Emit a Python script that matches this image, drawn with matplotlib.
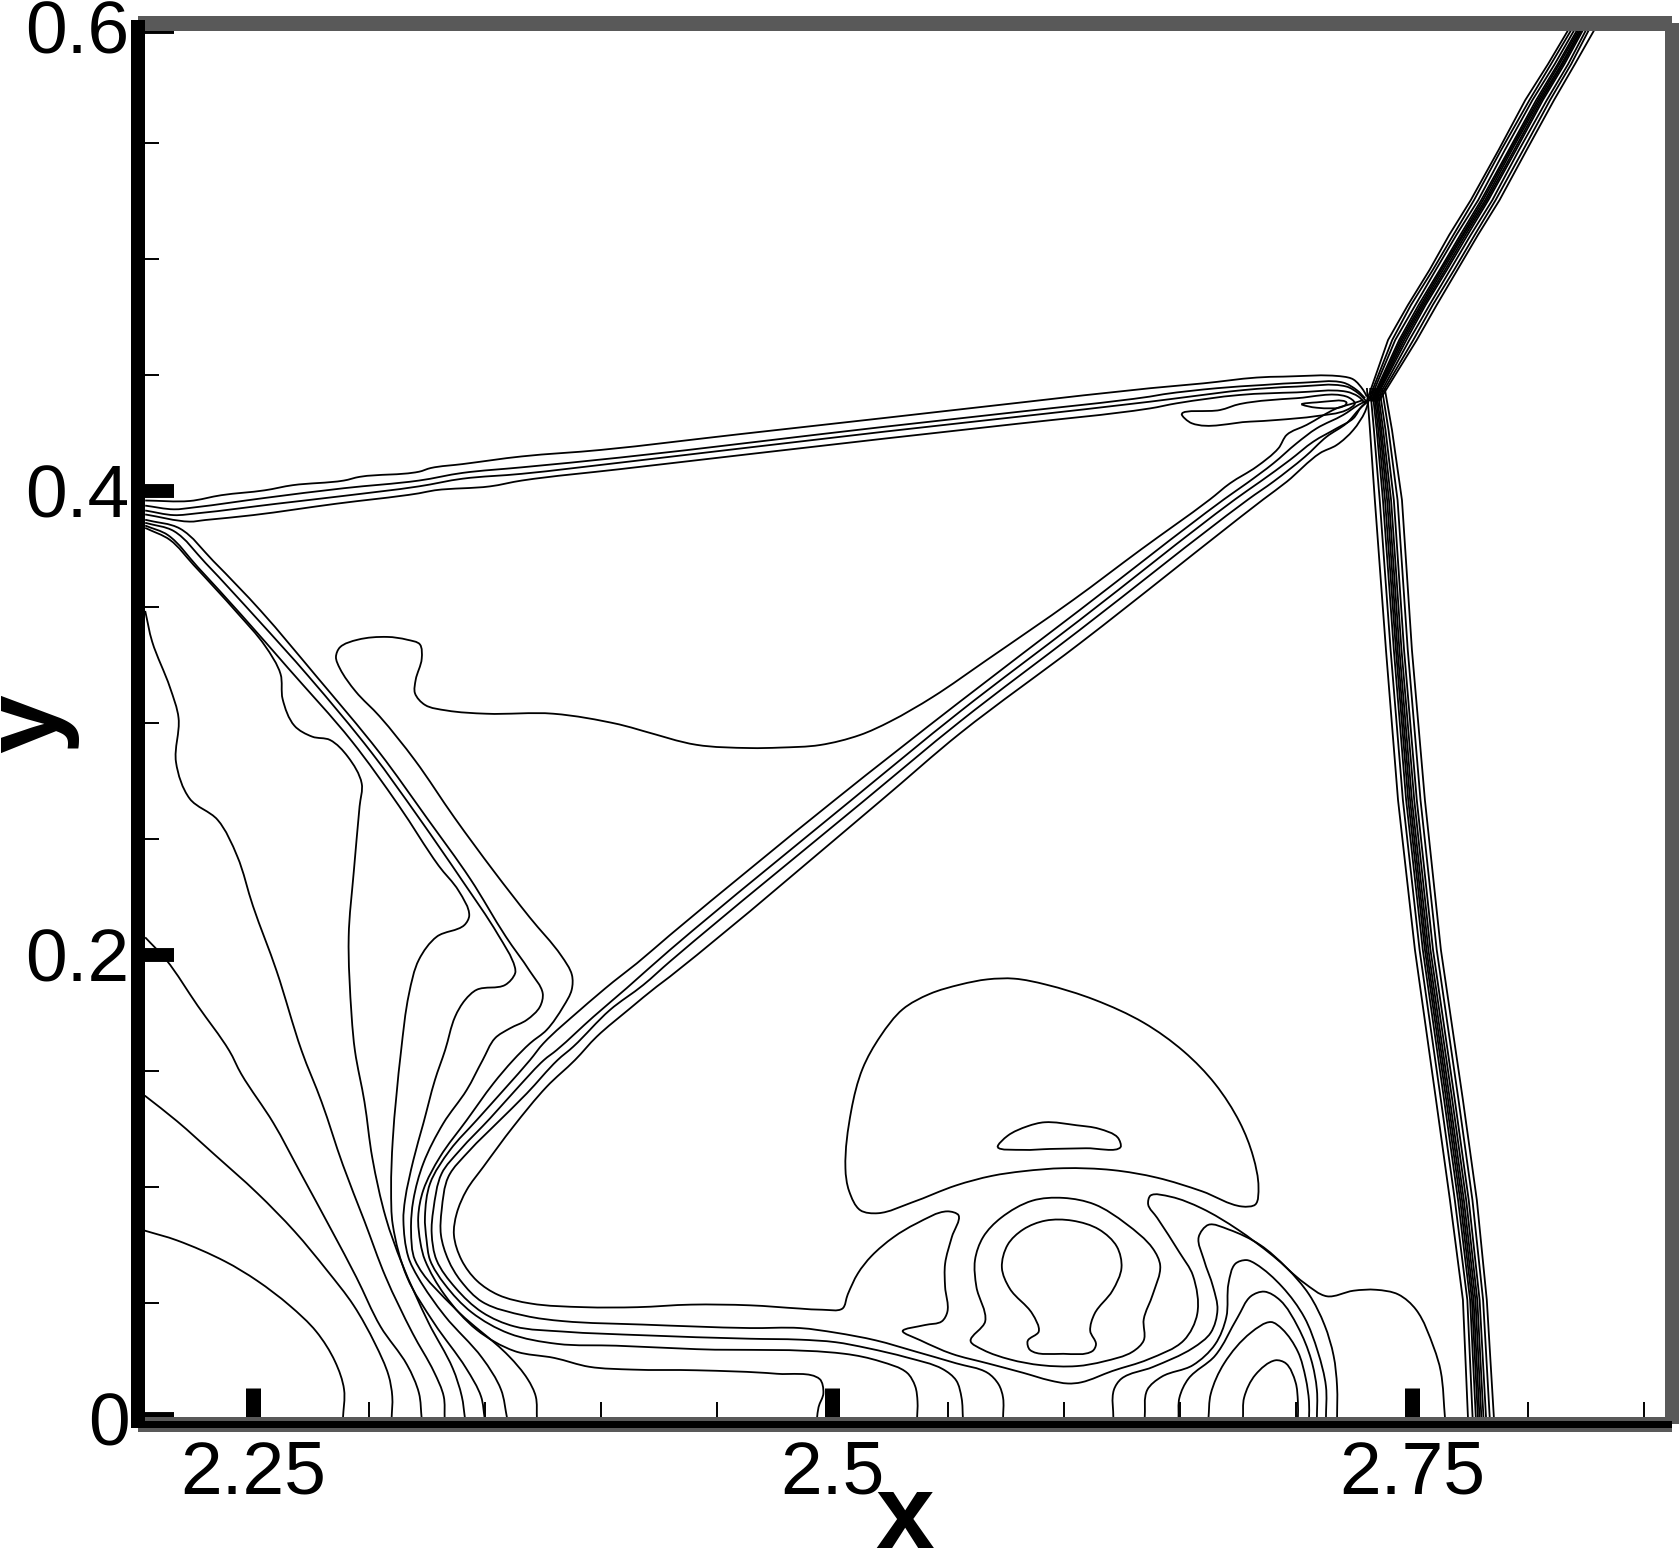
"""Density contours of a shock reflection, redrawn in a Tecplot-like frame."""

import matplotlib

matplotlib.use("Agg")
import matplotlib.pyplot as plt
import numpy as np
from matplotlib.patches import PathPatch, Rectangle
from matplotlib.path import Path

W, H = 1680, 1550
GRAY = "#595959"

x_major = [2.25, 2.5, 2.75]
x_major_labels = ["2.25", "2.5", "2.75"]
x_minor = [2.3, 2.35, 2.4, 2.45, 2.55, 2.6, 2.65, 2.7, 2.8, 2.85]
y_major = [0, 0.2, 0.4, 0.6]
y_major_labels = ["0", "0.2", "0.4", "0.6"]
y_minor = [0.05, 0.1, 0.15, 0.25, 0.3, 0.35, 0.45, 0.5, 0.55]

# fan of contours running into the lower wall
fan_1 = [(2.2033, .0812), (2.2172, .0770), (2.238, .0679), (2.2518, .0596), (2.2657, .049), (2.2773, .0377),
         (2.2854, .0248), (2.2893, .0127), (2.2888, 0)]
fan_2 = [(2.2033, .1394), (2.2172, .1284), (2.2334, .114), (2.2518, .0974), (2.268, .0808), (2.2819, .0641),
         (2.2934, .049), (2.3027, .0324), (2.3085, .0188), (2.3101, .0097), (2.3098, 0)]
fan_3 = [(2.2035, .2076), (2.2125, .198), (2.2261, .1782), (2.2398, .1587), (2.2449, .1488), (2.2588, .1276),
         (2.2703, .1065), (2.2842, .0808), (2.2946, .0611), (2.305, .0399), (2.3165, .0233), (2.3216, .0112),
         (2.3228, 0)]
fan_4 = [(2.2035, .3483), (2.2065, .3351), (2.2142, .3153), (2.2179, .3021), (2.2168, .2831), (2.2227, .2674),
         (2.2347, .2583), (2.2432, .2426), (2.25, .2211), (2.2602, .1931), (2.271, .1587), (2.2796, .1367),
         (2.2888, .1095), (2.2981, .0853), (2.3073, .0611), (2.3189, .0369), (2.3281, .0203), (2.3323, .0097),
         (2.3327, 0)]
fan_5 = [(2.2035, .3841), (2.2142, .3789), (2.2244, .3681), (2.2432, .3475), (2.2551, .3334), (2.2619, .3211),
         (2.2628, .3103), (2.2679, .2988), (2.2756, .2941), (2.2832, .2927), (2.2909, .2855), (2.2969, .274),
         (2.296, .2641), (2.2935, .236), (2.2913, .2079), (2.2926, .1732), (2.294, .1587), (2.2981, .1367),
         (2.3015, .1125), (2.3073, .0868), (2.3142, .0672), (2.3258, .0414), (2.3362, .0218), (2.3401, .0097),
         (2.3415, 0)]
fan_6 = [(2.2035, .3851), (2.2133, .381), (2.2261, .3673), (2.2449, .3467), (2.2653, .3235), (2.2926, .2922),
         (2.3131, .2641), (2.3301, .2385), (2.3387, .2277), (2.3433, .217), (2.3412, .2129), (2.3293, .2079),
         (2.3216, .198), (2.3173, .1832), (2.3139, .1587), (2.3103, .1201), (2.3096, .0989), (2.3103, .0838),
         (2.3165, .0611), (2.3281, .0414), (2.342, .0218), (2.3484, .0097), (2.35, 0)]
fan_7 = [(2.2035, .3863), (2.2159, .3827), (2.2295, .369), (2.2517, .345), (2.2739, .3202), (2.3012, .2872),
         (2.3216, .2591), (2.3404, .2319), (2.3557, .2088), (2.363, .1947), (2.3631, .1921), (2.3588, .1871),
         (2.3465, .185), (2.3415, .1806), (2.3372, .1734), (2.3329, .159), (2.3285, .1461), (2.3235, .1274),
         (2.3192, .1116), (2.3156, .0944), (2.3149, .0857), (2.317, .0699), (2.3212, .0611), (2.3327, .0445),
         (2.3489, .0263), (2.357, .0127), (2.3597, 0)]
fan_8 = [(2.2035, .3876), (2.2185, .3838), (2.2329, .3698), (2.2534, .3483), (2.2773, .3202), (2.3046, .2872),
         (2.325, .2591), (2.3438, .2327), (2.3591, .2079), (2.3694, .1931), (2.375, .1835), (2.3738, .1777),
         (2.3681, .172), (2.3609, .1684), (2.3544, .1641), (2.3491, .1547), (2.3422, .1418), (2.3321, .1274),
         (2.3235, .1102), (2.3192, .0944), (2.3182, .0814), (2.3199, .0685), (2.3373, .0475), (2.3604, .0271),
         (2.3685, .0172), (2.372, .0097), (2.3725, 0)]

# long contours: triple point, down the diagonal shock, along the wall
long_1 = [(2.729, .4392), (2.7247, .4378), (2.7175, .4356), (2.7046, .4285), (2.696, .4242), (2.6924, .4184),
          (2.683, .4105), (2.6715, .4033), (2.6629, .3964), (2.633, .3747), (2.6038, .353), (2.5665, .3271),
          (2.5434, .3113), (2.5248, .3006), (2.5118, .2948), (2.4946, .2905), (2.4773, .2894), (2.4644, .2892),
          (2.4413, .2906), (2.4182, .2966), (2.408, .2994), (2.3796, .304), (2.3506, .304), (2.3335, .3054),
          (2.3242, .3078), (2.3199, .3128), (2.3202, .3186), (2.3228, .3277), (2.322, .3339), (2.3165, .3359),
          (2.308, .3371), (2.2952, .3359), (2.2875, .3326), (2.2858, .3285), (2.2875, .3235), (2.2943, .3136),
          (2.3046, .3029), (2.3199, .2839), (2.337, .2591), (2.354, .236), (2.3694, .2162), (2.383, .1997),
          (2.3876, .1914), (2.3875, .185), (2.3839, .1778), (2.3767, .1677), (2.3695, .1619), (2.3623, .1547),
          (2.3537, .1446), (2.3422, .1288), (2.3307, .113), (2.3235, .0987), (2.3213, .0872), (2.3223, .0757),
          (2.3242, .0685), (2.3327, .0535), (2.3466, .0384), (2.3628, .0293), (2.3801, .0263), (2.3951, .0225),
          (2.4136, .0213), (2.4413, .021), (2.476, .0195), (2.4945, .0172), (2.4961, .0112), (2.494, .0051),
          (2.4933, 0)]
long_2 = [(2.7305, .4389), (2.7269, .4371), (2.7204, .4328), (2.7089, .427), (2.7003, .4206), (2.6902, .4119),
          (2.6787, .4033), (2.6689, .3964), (2.6067, .3487), (2.555, .3092), (2.501, .2668), (2.4299, .2086),
          (2.4156, .1964), (2.4055, .1885), (2.3911, .1763), (2.3753, .1619), (2.3695, .1547), (2.3594, .1432),
          (2.3465, .1288), (2.335, .1159), (2.3264, .1015), (2.3242, .0872), (2.3249, .0771), (2.3264, .0685),
          (2.3327, .0581), (2.3443, .046), (2.3604, .0369), (2.3812, .0324), (2.4067, .0316), (2.4413, .0301),
          (2.5053, .0281), (2.5207, .0248), (2.5322, .0199), (2.5357, .0141), (2.5367, .0075), (2.5365, 0)]
long_3 = [(2.7312, .4389), (2.7283, .4364), (2.7247, .4313), (2.7175, .427), (2.7075, .4213), (2.6974, .4134),
          (2.6845, .404), (2.6737, .3964), (2.6067, .3444), (2.555, .3049), (2.5082, .2668), (2.4299, .2022),
          (2.4112, .1857), (2.3969, .1734), (2.381, .159), (2.3755, .1547), (2.3652, .1439), (2.3523, .1296),
          (2.3393, .1159), (2.3314, .1058), (2.3278, .09), (2.3271, .08), (2.3292, .0685), (2.3373, .0566),
          (2.3489, .046), (2.3628, .0399), (2.3836, .0377), (2.4182, .0361), (2.4644, .0346), (2.486, .0342),
          (2.5014, .0331), (2.5149, .0306), (2.5322, .0265), (2.5476, .0215), (2.5534, .0166), (2.5557, .0091),
          (2.5563, 0)]
long_4 = [(2.7312, .4388), (2.7276, .4356), (2.7218, .4292), (2.7132, .4234), (2.7039, .4148), (2.6902, .404),
          (2.6794, .3964), (2.6067, .3401), (2.555, .3006), (2.514, .2668), (2.4299, .1972), (2.4184, .1871),
          (2.404, .1763), (2.3882, .1605), (2.3814, .1547), (2.3681, .1403), (2.3551, .1274), (2.3436, .1159),
          (2.3343, .1044), (2.3314, .09), (2.3311, .0793), (2.3343, .0685), (2.3396, .0596), (2.3489, .0505),
          (2.3674, .0445), (2.3836, .0422), (2.4182, .0407), (2.4644, .0392), (2.486, .0392), (2.5014, .0372),
          (2.5187, .0339), (2.5361, .029), (2.5534, .024), (2.5669, .0199), (2.5717, .0149), (2.5736, .0092),
          (2.5736, 0)]
long_5 = [(2.7312, .4385), (2.7298, .4342), (2.7247, .4263), (2.7175, .4198), (2.7103, .4163), (2.696, .404),
          (2.6859, .3964), (2.6067, .3343), (2.555, .2955), (2.5212, .2668), (2.4299, .1907), (2.4242, .1864),
          (2.4127, .177), (2.3983, .1648), (2.3889, .1547), (2.3767, .1432), (2.3623, .126), (2.3494, .1087),
          (2.3422, .0987), (2.3379, .0886), (2.3367, .0793), (2.34, .0685), (2.3466, .0596), (2.3558, .0535),
          (2.3697, .0498), (2.3928, .0482), (2.4159, .0482), (2.439, .0493), (2.4644, .049), (2.486, .0476),
          (2.4956, .0471), (2.5043, .0476), (2.5066, .0537), (2.511, .0628), (2.5168, .0702), (2.5264, .0784),
          (2.5361, .0842), (2.5496, .0895), (2.5544, .0878), (2.5515, .0784), (2.5486, .0669), (2.5486, .057),
          (2.5496, .0463), (2.5472, .0421), (2.5399, .0405), (2.5303, .0379), (2.538, .0339), (2.5515, .0281),
          (2.5669, .024), (2.5823, .0199), (2.5939, .0166), (2.6016, .0153), (2.6073, .0158), (2.6208, .0207),
          (2.6362, .0257), (2.6516, .0339), (2.6574, .0454), (2.6555, .0619), (2.6497, .0718), (2.6401, .0867),
          (2.6362, .0925), (2.6372, .0963), (2.6459, .0958), (2.6593, .0908), (2.6748, .0817), (2.6902, .0702),
          (2.7036, .0586), (2.7133, .0529), (2.7248, .0553), (2.7345, .0557), (2.7441, .0537), (2.7518, .0471),
          (2.7595, .0306), (2.7624, .0207), (2.7643, 0)]

# arches above the wall, right of the stem
arch_1 = [(2.6212, 0), (2.6214, .0125), (2.6247, .0174), (2.6382, .0224), (2.6555, .0306), (2.6632, .0372),
          (2.6661, .0471), (2.6642, .057), (2.6603, .0685), (2.658, .0784), (2.6622, .0837), (2.6709, .0817),
          (2.6844, .0751), (2.6959, .0652), (2.7056, .0537), (2.7123, .0405), (2.7162, .0273), (2.7177, .0141),
          (2.7177, 0)]
arch_2 = [(2.6347, 0), (2.6358, .0125), (2.642, .0182), (2.6555, .0232), (2.6651, .0322), (2.6699, .0438),
          (2.6709, .0586), (2.6738, .0669), (2.6786, .0685), (2.6825, .0669), (2.694, .057), (2.7036, .0438),
          (2.7094, .029), (2.7129, .0141), (2.7129, 0)]
arch_3 = [(2.6493, 0), (2.6497, .0092), (2.6536, .0174), (2.6651, .0273), (2.6748, .0438), (2.6805, .0529),
          (2.6863, .0549), (2.6931, .0512), (2.7008, .0397), (2.7065, .0257), (2.709, .0125), (2.709, 0)]
arch_4 = [(2.6622, 0), (2.6632, .0108), (2.669, .024), (2.6805, .0372), (2.6892, .0418), (2.694, .0388),
          (2.7008, .029), (2.7042, .0174), (2.7056, .0075), (2.7056, 0)]
arch_5 = [(2.6771, 0), (2.6776, .0092), (2.6825, .0191), (2.6911, .0253), (2.6956, .024), (2.6998, .0158),
          (2.7008, .0075), (2.7008, 0)]

# closed contours
ring_outer = [(2.5596, .0336), (2.5659, .0421), (2.5621, .057), (2.5615, .0685), (2.565, .0784), (2.5727, .0867),
              (2.5862, .0941), (2.5996, .0953), (2.6131, .0925), (2.6266, .0842), (2.6382, .0735), (2.6414, .0661),
              (2.6382, .0537), (2.6343, .043), (2.6343, .0339), (2.6295, .029), (2.617, .0248), (2.6054, .0228),
              (2.59, .0232), (2.5765, .0257), (2.565, .0298), (2.5596, .0336)]
ring_inner = [(2.5842, .0336), (2.589, .0377), (2.5862, .0454), (2.5765, .0562), (2.5731, .0652), (2.5756, .0751),
              (2.5823, .0817), (2.5919, .0855), (2.6035, .0855), (2.615, .0817), (2.6227, .0743), (2.6247, .0652),
              (2.6208, .0553), (2.6131, .0454), (2.6112, .038), (2.6137, .0322), (2.6122, .0293), (2.5996, .0281),
              (2.5852, .0298), (2.5842, .0336)]
cap = [(2.5785, .1898), (2.5669, .1895), (2.5553, .1873), (2.5419, .1832), (2.5303, .1766), (2.5207, .165),
       (2.513, .151), (2.5081, .1329), (2.5056, .1081), (2.5072, .0982), (2.512, .09), (2.5197, .0887),
       (2.5342, .0933), (2.5534, .1007), (2.5688, .1048), (2.5823, .1068), (2.5996, .1081), (2.6208, .1073),
       (2.6401, .104), (2.6593, .0982), (2.6767, .0916), (2.6825, .0925), (2.6838, .0999), (2.6815, .1131),
       (2.6757, .1279), (2.6651, .1444), (2.6516, .1584), (2.6343, .1708), (2.6131, .1807), (2.5919, .1873),
       (2.5785, .1898)]
lens = [(2.5713, .1172), (2.5756, .1221), (2.5842, .1262), (2.5915, .1279), (2.6054, .1266), (2.615, .1251),
        (2.6231, .1213), (2.6243, .1172), (2.6093, .1167), (2.5939, .1164), (2.5823, .116), (2.5713, .1172)]
tail = [(2.6507, .4332), (2.6672, .4349), (2.6758, .4375), (2.7003, .44), (2.7218, .4407), (2.7254, .4378),
        (2.7218, .4349), (2.7089, .4323), (2.6916, .4306), (2.6801, .4299), (2.655, .4292), (2.6507, .4332)]
tail_core = [(2.7024, .4374), (2.7089, .4382), (2.7218, .4381), (2.7211, .4369), (2.7089, .4359), (2.7024, .4374)]

# nearly straight shock from the wall to the triple point
stem_1 = [(2.2035, .3959), (2.2227, .3957), (2.2364, .3982), (2.2551, .4003), (2.2671, .4025), (2.2892, .4045),
          (2.296, .4061), (2.3216, .4083), (2.3267, .4099), (2.3404, .4116), (2.3659, .4149), (2.4, .4177),
          (2.46, .4245), (2.5226, .4315), (2.58, .438), (2.637, .4443), (2.66, .4464), (2.683, .4489),
          (2.6945, .4493), (2.7204, .4493), (2.7247, .4481), (2.729, .4435), (2.7305, .4407)]
stem_2 = [(2.2035, .3937), (2.2159, .3921), (2.2244, .3929), (2.2551, .397), (2.2892, .4012), (2.3216, .4045),
          (2.3404, .4078), (2.3659, .4102), (2.4082, .4144), (2.5226, .4277), (2.58, .4341), (2.637, .4407),
          (2.6428, .4417), (2.6658, .4443), (2.6859, .4457), (2.7032, .4467), (2.7204, .4467), (2.7262, .4435),
          (2.7298, .44)]
stem_3 = [(2.2035, .3916), (2.2159, .3896), (2.2261, .3904), (2.2602, .3945), (2.2892, .3979), (2.3216, .402),
          (2.3404, .4053), (2.3659, .4074), (2.4082, .4122), (2.5226, .4256), (2.58, .432), (2.637, .4385),
          (2.6543, .4407), (2.6773, .4435), (2.7003, .445), (2.7218, .445), (2.7269, .4421), (2.7305, .4385)]
stem_4 = [(2.2035, .3899), (2.2227, .3868), (2.2295, .3875), (2.25, .3896), (2.2858, .3945), (2.3216, .399),
          (2.3284, .4003), (2.3523, .402), (2.3659, .4045), (2.4082, .4094), (2.5226, .4226), (2.58, .429),
          (2.637, .4356), (2.6485, .4378), (2.6758, .4414), (2.7003, .4425), (2.7218, .4428), (2.7269, .4407),
          (2.7298, .4378)]

# incident shock, triple point to the top edge: one row of x per contour
ne_y = [.4390, .4651, .4802, .4953, .5104, .5254, .547, .5685, .584, .6]
ne_x = [
    [2.7306, 2.7397, 2.7483, 2.7576, 2.7661, 2.7754, 2.7874, 2.7989, 2.8087, 2.8182],
    [2.7312, 2.7415, 2.7496, 2.7590, 2.7679, 2.7768, 2.7885, 2.8007, 2.8100, 2.8195],
    [2.7318, 2.7428, 2.7515, 2.7603, 2.7692, 2.7786, 2.7901, 2.8020, 2.8116, 2.8208],
    [2.7325, 2.7445, 2.7529, 2.7620, 2.7709, 2.7799, 2.7918, 2.8036, 2.8129, 2.8220],
    [2.7329, 2.7452, 2.7538, 2.7626, 2.7717, 2.7807, 2.7924, 2.8044, 2.8136, 2.8227],
    [2.7333, 2.7459, 2.7545, 2.7634, 2.7723, 2.7816, 2.7931, 2.8051, 2.8145, 2.8233],
    [2.7337, 2.7467, 2.7552, 2.7643, 2.7731, 2.7823, 2.7941, 2.8058, 2.8151, 2.8239],
    [2.7340, 2.7476, 2.7559, 2.7651, 2.7740, 2.7830, 2.7949, 2.8065, 2.8158, 2.8245],
    [2.7347, 2.7489, 2.7576, 2.7665, 2.7754, 2.7847, 2.7962, 2.8082, 2.8174, 2.8258],
    [2.7353, 2.7506, 2.7590, 2.7682, 2.7771, 2.7861, 2.7980, 2.8096, 2.8187, 2.8270],
    [2.7360, 2.7521, 2.7607, 2.7696, 2.7785, 2.7878, 2.7995, 2.8113, 2.8203, 2.8294],
]

# shock from the triple point down to the wall
south_y = [.4440, .4263, .3961, .3315, .2668, .2022, .1375, .0944, .0513, 0]
south_x = [
    [2.7306, 2.7319, 2.7340, 2.7388, 2.7440, 2.7513, 2.7604, 2.7664, 2.7720, 2.7742],
    [2.7320, 2.7336, 2.7361, 2.7408, 2.7461, 2.7533, 2.7625, 2.7685, 2.7739, 2.7762],
    [2.7329, 2.7348, 2.7375, 2.7422, 2.7475, 2.7547, 2.7639, 2.7699, 2.7751, 2.7776],
    [2.7335, 2.7355, 2.7384, 2.7431, 2.7484, 2.7556, 2.7648, 2.7708, 2.7759, 2.7785],
    [2.7341, 2.7362, 2.7393, 2.7438, 2.7492, 2.7563, 2.7656, 2.7716, 2.7766, 2.7792],
    [2.7346, 2.7368, 2.7401, 2.7446, 2.7500, 2.7571, 2.7664, 2.7724, 2.7774, 2.7800],
    [2.7352, 2.7376, 2.7410, 2.7455, 2.7510, 2.7580, 2.7674, 2.7734, 2.7782, 2.7809],
    [2.7360, 2.7386, 2.7422, 2.7466, 2.7521, 2.7591, 2.7685, 2.7745, 2.7792, 2.7820],
    [2.7371, 2.7399, 2.7438, 2.7482, 2.7537, 2.7607, 2.7701, 2.7761, 2.7807, 2.7836],
    [2.7383, 2.7414, 2.7457, 2.7500, 2.7556, 2.7625, 2.7720, 2.7780, 2.7823, 2.7854],
]

contours = [
    fan_1, fan_2, fan_3, fan_4, fan_5, fan_6, fan_7, fan_8,
    long_1, long_2, long_3, long_4, long_5,
    arch_1, arch_2, arch_3, arch_4, arch_5,
    ring_outer, ring_inner, cap, lens, tail, tail_core,
    stem_1, stem_2, stem_3, stem_4,
]


def rounded_path(line):
    # the read points stay on the line; only the drawing between them is curved
    pts = np.array(line)
    closed = line[0] == line[-1]
    seg = np.diff(pts, axis=0)
    unit = seg / np.maximum(np.hypot(seg[:, 0], seg[:, 1]), 1e-9)[:, None]
    tangent = np.zeros_like(pts)
    tangent[1:-1] = (unit[:-1] + unit[1:]) / 2
    tangent[0], tangent[-1] = unit[0], unit[-1]
    if closed:
        tangent[0] = tangent[-1] = (unit[-1] + unit[0]) / 2
    verts = [pts[0]]
    for i, d in enumerate(seg):
        step = np.hypot(*d) / 3
        verts += [pts[i] + tangent[i] * step, pts[i + 1] - tangent[i + 1] * step, pts[i + 1]]
    codes = [Path.MOVETO] + [Path.CURVE4] * (len(verts) - 1)
    return Path(verts, codes)


def px_rect(fig, x0, y0, x1, y1, color):
    # frame pieces are placed in image pixels, y counted from the top
    fig.add_artist(Rectangle((x0 / W, 1 - y1 / H), (x1 - x0) / W, (y1 - y0) / H,
                             transform=fig.transFigure, facecolor=color, edgecolor="none", zorder=5))


def main():
    plt.rcParams["font.family"] = ["Liberation Sans", "DejaVu Sans"]
    fig = plt.figure(figsize=(W / 100, H / 100), dpi=100)
    ax = fig.add_axes([138 / W, (H - 1419) / H, 1534 / W, 1392 / H])
    ax.set_xlim(2.2004, 2.8622)
    ax.set_ylim(0, 0.6)

    for line in contours:
        ax.add_patch(PathPatch(rounded_path(line), fill=False, edgecolor="black", lw=1.3))
    for row in ne_x:
        ax.plot(row, ne_y, color="black", lw=1.3)
    for row in south_x:
        ax.plot(row, south_y, color="black", lw=1.3)

    for spine in ax.spines.values():
        spine.set_visible(False)

    ax.set_xticks(x_major, x_major_labels)
    ax.set_xticks(x_minor, minor=True)
    ax.set_yticks(y_major, y_major_labels)
    ax.set_yticks(y_minor, minor=True)
    ax.tick_params(axis="x", which="major", direction="in", length=22, width=10.8, labelsize=54, pad=15)
    ax.tick_params(axis="y", which="major", direction="in", length=26, width=10, labelsize=54, pad=6)
    ax.tick_params(axis="x", which="minor", direction="in", length=12, width=1.4)
    ax.tick_params(axis="y", which="minor", direction="in", length=15, width=1.4)

    px_rect(fig, 138, 16, 1672, 31, GRAY)
    px_rect(fig, 1665, 23, 1679, 1424, GRAY)
    px_rect(fig, 138, 1417, 1672, 1432, GRAY)
    px_rect(fig, 131, 1421, 1672, 1428, "black")
    px_rect(fig, 131, 20, 145, 1428, "black")

    fig.text(905 / W, 1 - 1548 / H, "x", fontsize=76, fontweight="bold", ha="center", va="baseline")
    fig.text(57 / W, 1 - 724 / H, "y", fontsize=76, fontweight="bold", rotation=90,
             rotation_mode="anchor", ha="center", va="baseline")

    fig.savefig("out.png", dpi=100)


if __name__ == "__main__":
    main()
